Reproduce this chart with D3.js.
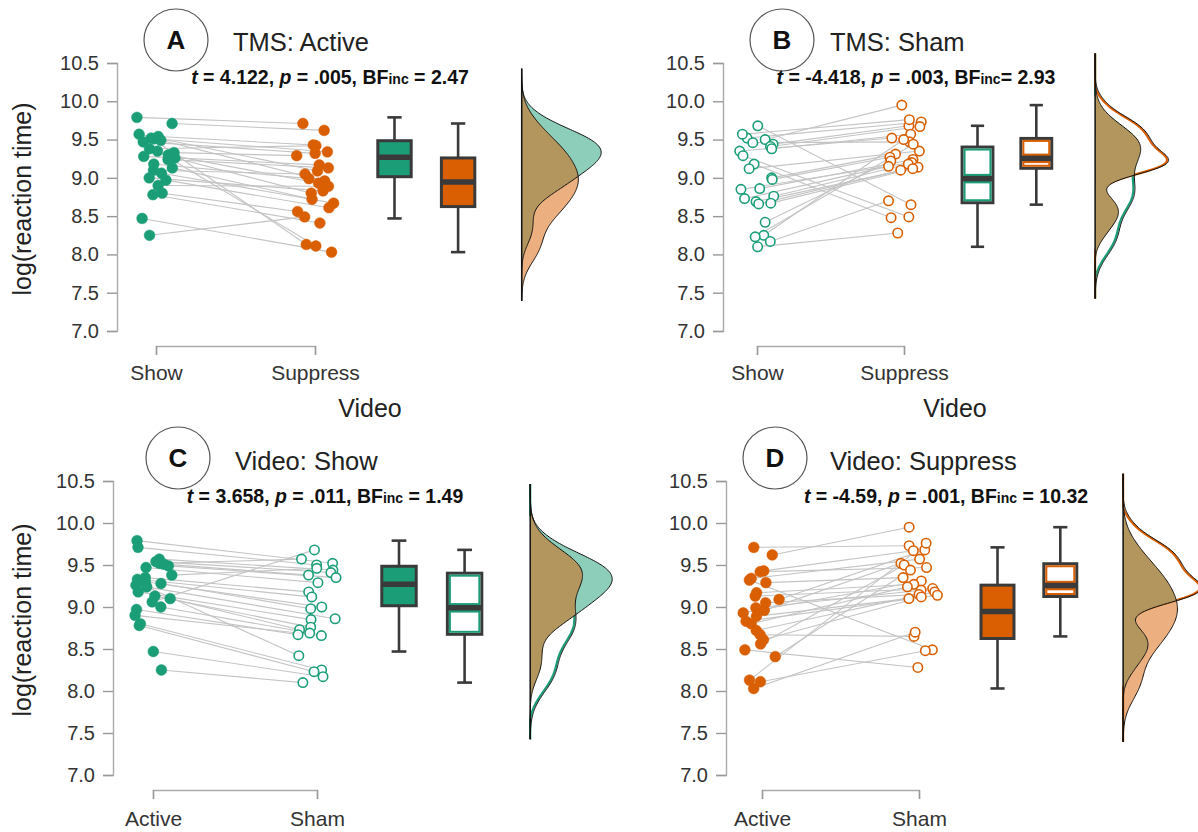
<!DOCTYPE html>
<html>
<head>
<meta charset="utf-8">
<script src="https://cdn.jsdelivr.net/npm/d3@7"></script>
<style>
  body { margin: 0; background: #fff; }
  svg text { font-family: "Liberation Sans", Arial, sans-serif; }
</style>
</head>
<body>
<svg id="chart" width="1198" height="832"></svg>
<script>
// ---- data: one value per subject, same subject order in every array ----
var showActive     = [9.79, 9.71, 9.57, 9.54, 9.52, 9.51, 9.49, 9.47, 9.38, 9.35, 9.33, 9.30, 9.28,
                      9.26, 9.24, 9.18, 9.13, 9.10, 9.06, 9.00, 8.97, 8.90, 8.80, 8.78, 8.47, 8.25];
var suppressActive = [9.71, 9.62, 9.09, 9.43, 8.13, 9.34, 8.96, 9.32, 9.42, 8.11, 9.29, 8.93, 9.17,
                      8.80, 9.13, 8.99, 8.72, 9.05, 8.67, 8.83, 8.61, 8.89, 8.56, 8.41, 8.03, 8.49];
var showSham       = [9.52, 9.50, 9.44, 9.41, 9.57, 9.38, 9.35, 9.29, 9.46, 9.18, 9.12, 9.00, 8.98,
                      8.86, 8.42, 8.85, 8.76, 8.73, 9.68, 8.69, 8.67, 8.66, 8.25, 8.23, 8.17, 8.10];
var suppressSham   = [9.73, 9.95, 9.68, 9.67, 9.76, 9.57, 9.52, 8.49, 9.47, 8.48, 9.35, 9.31, 9.27,
                      9.24, 9.22, 9.20, 9.18, 9.15, 8.65, 9.14, 9.12, 9.10, 9.50, 9.44, 8.70, 8.28];

var yTicks = [7.0, 7.5, 8.0, 8.5, 9.0, 9.5, 10.0, 10.5];
var panelLetters = ["A", "B", "C", "D"];
var panelTitles = ["TMS: Active", "TMS: Sham", "Video: Show", "Video: Suppress"];
var categoryNames = [["Show", "Suppress"], ["Show", "Suppress"], ["Active", "Sham"], ["Active", "Sham"]];
var statT = ["4.122", "-4.418", "3.658", "-4.59"];
var statP = [".005", ".003", ".011", ".001"];
var statBF = [" = 2.47", "= 2.93", " = 1.49", " = 10.32"];

var green = "#1b9e77", orange = "#d95f02";
var lightGreen = "#8dcebb", lightOrange = "#ecaf80", overlapFill = "#b2965e";
var dark = "#3a3a3a";

var panels = [
  { a: showActive, b: suppressActive, cols: [green, orange], light: [lightGreen, lightOrange], hollow: [false, false],
    axisX: 117, yTop: 63, yBot: 331, x0: 156, unit: 159, cx: 176, cy: 40, titleX: 233, titleY: 51,
    statX: 330, statY: 84, bracketY: 346, catPad: 10, xTitle: [370, 417], yTitle: 199 },
  { a: showSham, b: suppressSham, cols: [green, orange], light: [lightGreen, lightOrange], hollow: [true, true],
    axisX: 723, yTop: 63, yBot: 331, x0: 757, unit: 147, cx: 782, cy: 40, titleX: 830, titleY: 51,
    statX: 916, statY: 84, bracketY: 346, catPad: 10, xTitle: [955, 417], yTitle: null },
  { a: showActive, b: showSham, cols: [green, green], light: [lightGreen, lightGreen], hollow: [false, true],
    axisX: 113, yTop: 481, yBot: 775, x0: 153, unit: 164, cx: 178, cy: 458, titleX: 235, titleY: 470,
    statX: 325, statY: 503, bracketY: 790, catPad: 12, xTitle: null, yTitle: 620 },
  { a: suppressActive, b: suppressSham, cols: [orange, orange], light: [lightOrange, lightOrange], hollow: [false, true],
    axisX: 726, yTop: 481, yBot: 775, x0: 762, unit: 157, cx: 775, cy: 458, titleX: 830, titleY: 470,
    statX: 946, statY: 503, bracketY: 790, catPad: 12, xTitle: null, yTitle: null }
];

var svg = d3.select("#chart");

function nrd0(v) {
  var s = v.slice().sort(d3.ascending);
  var iqr = d3.quantile(s, 0.75) - d3.quantile(s, 0.25);
  return 0.9 * Math.min(d3.deviation(s), iqr / 1.34) * Math.pow(s.length, -0.2);
}
function gauss(u) { return Math.exp(-0.5 * u * u) / Math.sqrt(2 * Math.PI); }

function boxStats(v) {
  var s = v.slice().sort(d3.ascending);
  var q1 = d3.quantile(s, 0.25), med = d3.quantile(s, 0.5), q3 = d3.quantile(s, 0.75);
  var iqr = q3 - q1;
  var lo = d3.min(s.filter(d => d >= q1 - 1.5 * iqr));
  var hi = d3.max(s.filter(d => d <= q3 + 1.5 * iqr));
  return { q1: q1, med: med, q3: q3, lo: lo, hi: hi };
}

panels.forEach(function(p, pi) {
  var g = svg.append("g");
  var y = d3.scaleLinear().domain([7, 10.5]).range([p.yBot, p.yTop]);
  var x = d3.scaleLinear().domain([0, 1]).range([p.x0, p.x0 + p.unit]);

  // y axis
  var yAxis = g.append("g")
    .attr("transform", `translate(${p.axisX},0)`)
    .call(d3.axisLeft(y).tickValues(yTicks).tickFormat(d3.format(".1f")).tickSize(10).tickPadding(8));
  // x axis bracket
  var xPoint = d3.scalePoint().domain(categoryNames[pi]).range([x(0), x(1)]).padding(0);
  var xAxis = g.append("g")
    .attr("transform", `translate(0,${p.bracketY})`)
    .call(d3.axisBottom(xPoint).tickSize(9).tickSizeOuter(9).tickPadding(p.catPad));
  [yAxis, xAxis].forEach(function(ax) {
    ax.select(".domain").attr("stroke", "#aaa").attr("stroke-width", 1.4);
    ax.selectAll(".tick line").attr("stroke", "#999").attr("stroke-width", 1.4);
    ax.selectAll(".tick text").attr("fill", "#333");
  });
  yAxis.selectAll(".tick text").attr("font-size", 20);
  xAxis.selectAll(".tick text").attr("font-size", 21);

  if (p.xTitle) {
    g.append("text").attr("x", p.xTitle[0]).attr("y", p.xTitle[1])
      .attr("text-anchor", "middle").attr("font-size", 25).attr("fill", "#222").text("Video");
  }
  if (p.yTitle) {
    g.append("text").attr("transform", `translate(22,${p.yTitle}) rotate(-90)`)
      .attr("text-anchor", "middle").attr("dominant-baseline", "central")
      .attr("font-size", 25).attr("fill", "#222").text("log(reaction time)");
  }

  // panel letter, title and statistics
  g.append("ellipse").attr("cx", p.cx).attr("cy", p.cy).attr("rx", 32).attr("ry", 31)
    .attr("fill", "none").attr("stroke", "#555").attr("stroke-width", 1.2);
  g.append("text").attr("x", p.cx).attr("y", p.cy + 9).attr("text-anchor", "middle")
    .attr("font-size", 26).attr("font-weight", "bold").attr("fill", "#111").text(panelLetters[pi]);
  g.append("text").attr("x", p.titleX).attr("y", p.titleY)
    .attr("font-size", 25.5).attr("fill", "#222").text(panelTitles[pi]);
  var st = g.append("text").attr("x", p.statX).attr("y", p.statY).attr("text-anchor", "middle")
    .attr("font-size", 19.5).attr("font-weight", "bold").attr("fill", "#111");
  st.append("tspan").attr("font-style", "italic").text("t");
  st.append("tspan").text(" = " + statT[pi] + ", ");
  st.append("tspan").attr("font-style", "italic").text("p");
  st.append("tspan").text(" = " + statP[pi] + ", BF");
  st.append("tspan").attr("font-size", 14).text("inc");
  st.append("tspan").text(statBF[pi]);

  // fixed scatter offsets (category units) so paired points do not overlap
  function jit(i, side) {
    var h = Math.sin(i * 12.9898 + side * 78.233 + pi * 37.719) * 43758.5453;
    return (h - Math.floor(h) - 0.5) * 0.24;
  }

  // paired lines
  g.append("g").selectAll("line").data(p.a).join("line")
    .attr("x1", (d, i) => x(0 + jit(i, 0)))
    .attr("y1", d => y(d))
    .attr("x2", (d, i) => x(1 + jit(i, 1)))
    .attr("y2", (d, i) => y(p.b[i]))
    .attr("stroke", "#c4c4c4").attr("stroke-width", 1.1);

  // points
  [p.a, p.b].forEach(function(vals, side) {
    g.append("g").selectAll("circle").data(vals).join("circle")
      .attr("cx", (d, i) => x(side + jit(i, side)))
      .attr("cy", d => y(d))
      .attr("r", p.hollow[side] ? 4.7 : 5.4)
      .attr("fill", p.hollow[side] ? "#fff" : p.cols[side])
      .attr("stroke", p.cols[side])
      .attr("stroke-width", p.hollow[side] ? 1.6 : 0.5);
  });

  // box plots
  var bw = 0.21 * p.unit, cap = 0.09 * p.unit;
  [p.a, p.b].forEach(function(vals, side) {
    var s = boxStats(vals);
    var bx = x(1.5 + 0.4 * side);
    var bg = g.append("g");
    bg.append("line").attr("x1", bx).attr("x2", bx).attr("y1", y(s.hi)).attr("y2", y(s.q3))
      .attr("stroke", dark).attr("stroke-width", 2.6);
    bg.append("line").attr("x1", bx).attr("x2", bx).attr("y1", y(s.q1)).attr("y2", y(s.lo))
      .attr("stroke", dark).attr("stroke-width", 2.6);
    [s.hi, s.lo].forEach(function(v) {
      bg.append("line").attr("x1", bx - cap / 2).attr("x2", bx + cap / 2).attr("y1", y(v)).attr("y2", y(v))
        .attr("stroke", dark).attr("stroke-width", 2.6);
    });
    bg.append("rect").attr("x", bx - bw / 2).attr("width", bw)
      .attr("y", y(s.q3)).attr("height", y(s.q1) - y(s.q3))
      .attr("fill", p.hollow[side] ? "#fff" : p.cols[side])
      .attr("stroke", dark).attr("stroke-width", 3);
    if (p.hollow[side]) {
      bg.append("rect").attr("x", bx - bw / 2 + 2.5).attr("width", bw - 5)
        .attr("y", y(s.q3) + 2.5).attr("height", y(s.q1) - y(s.q3) - 5)
        .attr("fill", "none").attr("stroke", p.cols[side]).attr("stroke-width", 2);
      bg.append("line").attr("x1", bx - bw / 2 + 2).attr("x2", bx + bw / 2 - 2)
        .attr("y1", y(s.med)).attr("y2", y(s.med))
        .attr("stroke", p.cols[side]).attr("stroke-width", 9.5);
    }
    bg.append("line").attr("x1", bx - bw / 2).attr("x2", bx + bw / 2)
      .attr("y1", y(s.med)).attr("y2", y(s.med))
      .attr("stroke", dark).attr("stroke-width", 5.5);
  });

  // half-violin densities (Gaussian kernel, nrd0 bandwidth)
  var bwA = nrd0(p.a), bwB = nrd0(p.b), bwM = Math.max(bwA, bwB);
  var lo = Math.min(d3.min(p.a), d3.min(p.b)) - 3 * bwM;
  var hi = Math.max(d3.max(p.a), d3.max(p.b)) + 3 * bwM;
  var grid = d3.range(0, 241).map(i => lo + (hi - lo) * i / 240);
  var dens = grid.map(v => ({
    v: v,
    a: d3.mean(p.a, s => gauss((v - s) / bwA)) / bwA,
    b: d3.mean(p.b, s => gauss((v - s) / bwB)) / bwB
  }));
  dens.forEach(d => d.m = Math.min(d.a, d.b));
  var xd = x(2.3);
  var dx = d3.scaleLinear().domain([0, d3.max(dens, d => Math.max(d.a, d.b))]).range([xd, xd + 0.5 * p.unit]);
  var dg = g.append("g");
  ["a", "b"].forEach(function(k, side) {
    dg.append("path").datum(dens)
      .attr("d", d3.area().y(d => y(d.v)).x0(xd).x1(d => dx(d[k])))
      .attr("fill", p.hollow[side] ? "#fff" : p.light[side]);
  });
  ["a", "b"].forEach(function(k, side) {
    if (!p.hollow[side]) return;
    dg.append("path").datum(dens)
      .attr("d", d3.line().y(d => y(d.v)).x(d => Math.max(xd, dx(d[k]) - 1.6)))
      .attr("fill", "none").attr("stroke", p.cols[side]).attr("stroke-width", 2.2);
  });
  dg.append("path").datum(dens)
    .attr("d", d3.area().y(d => y(d.v)).x0(xd).x1(d => dx(d.m)))
    .attr("fill", overlapFill);
  ["a", "b"].forEach(function(k) {
    dg.append("path").datum(dens)
      .attr("d", d3.line().y(d => y(d.v)).x(d => dx(d[k])))
      .attr("fill", "none").attr("stroke", "#111").attr("stroke-width", 1);
  });
  dg.append("line").attr("x1", xd).attr("x2", xd).attr("y1", y(lo)).attr("y2", y(hi))
    .attr("stroke", "#111").attr("stroke-width", 1.5);
});
</script>
</body>
</html>
